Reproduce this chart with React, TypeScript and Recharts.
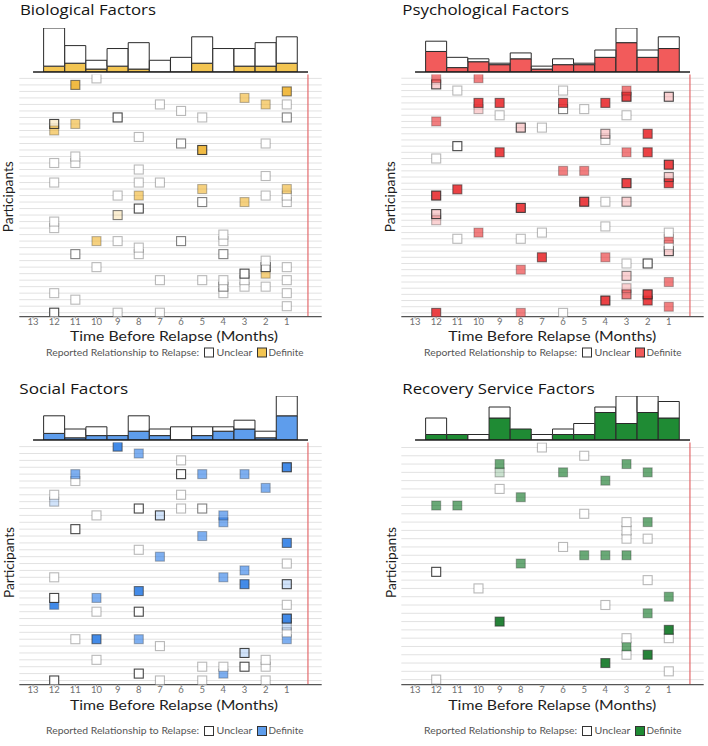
import React from "react";
import { BarChart, Bar, ScatterChart, Scatter, XAxis, YAxis, ReferenceLine } from "recharts";

// ---------- categories ----------
const MONTHS = [12, 11, 10, 9, 8, 7, 6, 5, 4, 3, 2, 1];
const MONTH_TICKS = [13, 12, 11, 10, 9, 8, 7, 6, 5, 4, 3, 2, 1];

// ---------- marginal histogram counts (months 12 -> 1) ----------
const BIO_TOTAL = [15, 9, 4, 8, 10, 4, 5, 12, 8, 8, 10, 12];
const BIO_DEFINITE = [2, 3, 1, 2, 1, 0, 0, 3, 0, 2, 2, 3];
const PSY_TOTAL = [21, 10, 9, 6, 13, 4, 9, 6, 15, 30, 15, 24];
const PSY_DEFINITE = [14, 3, 7, 5, 9, 2, 5, 5, 10, 20, 10, 16];
const SOC_TOTAL = [11, 5, 6, 2, 11, 5, 6, 6, 6, 9, 4, 20];
const SOC_DEFINITE = [3, 1, 2, 2, 4, 2, 0, 2, 4, 5, 1, 11];
const REC_TOTAL = [4, 1, 1, 6, 2, 1, 2, 3, 6, 8, 8, 7];
const REC_DEFINITE = [1, 1, 0, 4, 2, 0, 1, 1, 5, 3, 5, 4];

// ---------- events: [month, participant row, definite?, fill level, border level] ----------
type Pt = [number, number, number, number, number];
const BIO_POINTS: Pt[] = [
  [10, 1, 0, 0, 1], [11, 2, 1, 3, 2], [1, 3, 1, 3, 2], [3, 4, 1, 2, 1], [7, 5, 0, 0, 1], [2, 5, 1, 2, 1],
  [1, 5, 0, 0, 1], [6, 6, 0, 0, 1], [9, 7, 0, 0, 3], [5, 7, 0, 0, 1], [1, 7, 0, 0, 2], [12, 9, 1, 2, 1],
  [12, 8, 1, 1, 3], [11, 8, 1, 2, 1], [8, 10, 0, 0, 1], [6, 11, 0, 0, 2], [2, 11, 0, 0, 1], [5, 12, 1, 3, 3],
  [11, 13, 0, 0, 1], [11, 14, 0, 0, 1], [12, 14, 0, 0, 1], [8, 15, 0, 0, 1], [2, 16, 0, 0, 1], [12, 17, 0, 0, 1],
  [8, 17, 0, 0, 1], [7, 17, 0, 0, 1], [5, 18, 1, 2, 1], [1, 18, 1, 2, 1], [9, 19, 0, 0, 1], [8, 19, 1, 2, 1],
  [2, 19, 0, 0, 1], [1, 19, 0, 0, 1], [1, 20, 0, 0, 1], [5, 20, 0, 0, 2], [3, 20, 1, 2, 1], [8, 21, 0, 0, 3],
  [9, 22, 1, 1, 2], [12, 23, 0, 0, 1], [12, 24, 0, 0, 1], [4, 25, 0, 0, 1], [10, 26, 1, 2, 1], [9, 26, 0, 0, 1],
  [6, 26, 0, 0, 2], [4, 26, 0, 0, 1], [8, 27, 0, 0, 1], [8, 28, 0, 0, 1], [11, 28, 0, 0, 2], [4, 28, 0, 0, 2],
  [2, 29, 0, 0, 1], [10, 30, 0, 0, 1], [2, 30, 0, 0, 3], [1, 30, 0, 0, 1], [2, 31, 1, 2, 1], [3, 31, 0, 0, 3],
  [7, 32, 0, 0, 1], [5, 32, 0, 0, 1], [4, 32, 0, 0, 1], [3, 32, 0, 0, 1], [1, 32, 0, 0, 1], [4, 33, 0, 0, 2],
  [3, 33, 0, 0, 1], [2, 33, 0, 0, 1], [12, 34, 0, 0, 1], [4, 34, 0, 0, 1], [1, 34, 0, 0, 1], [11, 35, 0, 0, 1],
  [1, 36, 0, 0, 1], [12, 37, 0, 0, 3], [9, 37, 0, 0, 1], [7, 37, 0, 0, 1],
];
const PSY_POINTS: Pt[] = [
  [12, 1, 1, 2, 1], [12, 2, 1, 1, 3], [10, 1, 1, 2, 1], [11, 3, 0, 0, 1], [6, 3, 0, 0, 1], [3, 3, 1, 2, 1],
  [3, 4, 1, 3, 3], [1, 4, 1, 1, 3], [10, 5, 1, 3, 2], [10, 6, 1, 1, 1], [9, 5, 1, 3, 2], [6, 5, 1, 3, 2],
  [6, 6, 0, 0, 2], [5, 6, 0, 0, 1], [4, 5, 1, 3, 2], [9, 7, 0, 0, 1], [3, 7, 0, 0, 1], [12, 8, 1, 2, 1],
  [8, 9, 1, 1, 3], [7, 9, 0, 0, 1], [4, 10, 1, 1, 2], [4, 11, 0, 0, 1], [2, 10, 1, 3, 2], [11, 12, 0, 0, 3],
  [9, 13, 1, 3, 2], [3, 13, 1, 2, 1], [2, 13, 1, 3, 2], [12, 14, 0, 0, 1], [1, 15, 1, 3, 3], [6, 16, 1, 2, 1],
  [5, 16, 1, 2, 1], [1, 17, 1, 1, 2], [1, 18, 1, 3, 2], [3, 18, 1, 3, 3], [11, 19, 1, 3, 2], [12, 20, 1, 3, 3],
  [5, 21, 1, 3, 3], [4, 21, 0, 0, 1], [3, 21, 1, 1, 2], [8, 22, 1, 3, 3], [12, 23, 1, 1, 3], [12, 24, 1, 1, 1],
  [4, 25, 0, 0, 1], [10, 26, 1, 2, 1], [7, 26, 0, 0, 1], [11, 27, 0, 0, 1], [8, 27, 0, 0, 1], [1, 26, 0, 0, 1],
  [1, 27, 1, 2, 1], [1, 28, 0, 0, 1], [1, 29, 1, 1, 3], [7, 30, 1, 3, 2], [4, 30, 1, 2, 1], [3, 31, 0, 0, 1],
  [2, 31, 0, 0, 3], [8, 32, 1, 2, 1], [3, 33, 1, 1, 2], [1, 34, 1, 2, 1], [3, 35, 1, 1, 1], [3, 36, 1, 2, 2],
  [2, 36, 1, 3, 3], [2, 37, 1, 3, 2], [4, 37, 1, 3, 3], [1, 38, 1, 2, 1], [12, 39, 1, 3, 2], [8, 39, 1, 2, 1],
  [6, 39, 0, 0, 1],
];
const SOC_POINTS: Pt[] = [
  [9, 1, 1, 3, 2], [8, 2, 1, 2, 1], [6, 3, 0, 0, 1], [1, 4, 1, 3, 3], [11, 5, 1, 2, 1], [11, 6, 0, 0, 1],
  [6, 5, 0, 0, 3], [5, 5, 1, 2, 1], [3, 5, 1, 2, 1], [2, 7, 1, 2, 1], [12, 8, 0, 0, 1], [12, 9, 1, 1, 1],
  [6, 8, 0, 0, 1], [8, 10, 0, 0, 3], [6, 10, 0, 0, 1], [5, 10, 0, 0, 2], [10, 11, 0, 0, 1], [7, 11, 1, 1, 3],
  [4, 11, 1, 2, 1], [4, 12, 1, 2, 1], [11, 13, 0, 0, 3], [5, 14, 1, 2, 1], [1, 15, 1, 3, 2], [8, 16, 0, 0, 1],
  [7, 17, 1, 2, 1], [1, 18, 0, 0, 1], [3, 19, 1, 2, 1], [12, 20, 0, 0, 1], [4, 20, 1, 2, 1], [3, 21, 1, 3, 2],
  [1, 21, 1, 1, 3], [8, 22, 1, 3, 2], [12, 23, 0, 0, 3], [12, 24, 1, 3, 1], [10, 23, 1, 2, 1], [1, 24, 0, 0, 1],
  [10, 25, 0, 0, 1], [8, 25, 0, 0, 3], [1, 26, 1, 3, 3], [1, 27, 1, 1, 1], [1, 28, 0, 0, 1], [1, 29, 1, 2, 1],
  [11, 29, 0, 0, 1], [10, 29, 1, 3, 2], [8, 29, 1, 2, 1], [7, 30, 0, 0, 1], [3, 31, 1, 1, 3], [10, 32, 0, 0, 1],
  [2, 32, 0, 0, 1], [2, 33, 0, 0, 1], [5, 33, 0, 0, 1], [4, 33, 0, 0, 1], [3, 33, 0, 0, 3], [8, 34, 0, 0, 3],
  [4, 34, 1, 2, 1], [12, 35, 0, 0, 3], [7, 35, 0, 0, 1], [5, 35, 0, 0, 1], [2, 35, 0, 0, 1],
];
const REC_POINTS: Pt[] = [
  [7, 1, 0, 0, 1], [5, 2, 0, 0, 1], [9, 3, 1, 2, 1], [9, 4, 1, 1, 1], [3, 3, 1, 2, 1], [6, 4, 1, 2, 1],
  [2, 4, 1, 2, 1], [4, 5, 1, 2, 1], [9, 6, 0, 0, 1], [8, 7, 1, 2, 1], [12, 8, 1, 2, 1], [11, 8, 1, 2, 1],
  [5, 9, 0, 0, 1], [3, 10, 0, 0, 1], [2, 10, 1, 2, 1], [3, 11, 0, 0, 1], [3, 12, 0, 0, 1], [2, 12, 0, 0, 1],
  [6, 13, 0, 0, 1], [5, 14, 1, 2, 1], [4, 14, 1, 2, 1], [3, 14, 1, 2, 1], [8, 15, 1, 2, 1], [12, 16, 0, 0, 3],
  [2, 17, 0, 0, 1], [10, 18, 0, 0, 1], [1, 19, 1, 2, 1], [4, 20, 0, 0, 1], [2, 21, 1, 2, 1], [9, 22, 1, 3, 2],
  [1, 23, 1, 3, 2], [1, 24, 0, 0, 1], [3, 24, 0, 0, 1], [3, 25, 1, 2, 1], [3, 26, 0, 0, 1], [2, 26, 1, 3, 2],
  [4, 27, 1, 3, 2], [1, 28, 0, 0, 1], [12, 29, 0, 0, 1],
];

const FILL_ALPHA = [0, 0.22, 0.62, 0.9];
const BORDER_ALPHA = [0, 0.33, 0.6, 0.88];
const LEGEND_LABEL = "Reported Relationship to Relapse:";
const X_TITLE = "Time Before Relapse (Months)";

const PANELS = [
  { key: "bio", title: "Biological Factors", dx: 0, dy: 0, rows: 37, points: BIO_POINTS, total: BIO_TOTAL, definite: BIO_DEFINITE,
    color: "#F0B430", histColor: "#F3C552", titleX: 20, titleY: 15.3, titleW: 136, xtX: 70, xtY: 340.5, ylX: 13.5, ylY: 196.7, lgX: 46, lgY: 352.5 },
  { key: "psy", title: "Psychological Factors", dx: 382.4, dy: 0, rows: 39, points: PSY_POINTS, total: PSY_TOTAL, definite: PSY_DEFINITE,
    color: "#E92E31", histColor: "#F25B5B", titleX: 402.3, titleY: 15.3, titleW: 166.7, xtX: 448.3, xtY: 340.5, ylX: 395.5, ylY: 196.7, lgX: 424, lgY: 352.5 },
  { key: "soc", title: "Social Factors", dx: 0, dy: 368, rows: 35, points: SOC_POINTS, total: SOC_TOTAL, definite: SOC_DEFINITE,
    color: "#2F7EE6", histColor: "#5E9DEC", titleX: 19.3, titleY: 394, titleW: 109, xtX: 70, xtY: 710, ylX: 13.5, ylY: 562.5, lgX: 46, lgY: 731 },
  { key: "rec", title: "Recovery Service Factors", dx: 382.4, dy: 368, rows: 29, points: REC_POINTS, total: REC_TOTAL, definite: REC_DEFINITE,
    color: "#0E7524", histColor: "#1F8B34", titleX: 402.3, titleY: 394, titleW: 192.4, xtX: 448.3, xtY: 710, ylX: 395.5, ylY: 562.5, lgX: 424, lgY: 731 },
];

const makeShape = (base: string) => (props: any) => {
  const { cx, cy, payload } = props;
  if (cx == null || cy == null) return <g />;
  const s = 9;
  const isDef = payload.d === 1;
  return (
    <rect
      x={cx - s / 2}
      y={cy - s / 2}
      width={s}
      height={s}
      fill={isDef ? base : "#ffffff"}
      fillOpacity={isDef ? FILL_ALPHA[payload.f] : 1}
      stroke="#2b2b2b"
      strokeOpacity={BORDER_ALPHA[payload.b]}
      strokeWidth={1.1}
    />
  );
};

function Panel({ cfg }: { cfg: any }) {
  const hist = MONTHS.map((m, i) => ({ month: m, definite: cfg.definite[i], unclear: cfg.total[i] - cfg.definite[i] }));
  const maxT = Math.max(...cfg.total);
  const pts = cfg.points
    .map(([m, p, d, f, b]: Pt) => ({ m, p, d, f, b }))
    .sort((a: any, b: any) => b.p - a.p);
  const rowTicks = Array.from({ length: cfg.rows }, (_, i) => i + 1);
  return (
    <>
      <div style={{ position: "absolute", left: cfg.dx, top: cfg.dy + 20 }}>
        <BarChart width={325} height={60} data={hist} margin={{ top: 8, right: 17, left: 33.05, bottom: 6 }} barCategoryGap={0}>
          <XAxis dataKey="month" type="category" padding={{ left: 10.57, right: 10.57 }} tick={false} tickLine={false}
            axisLine={{ stroke: "#1e1e1e", strokeWidth: 1.5 }} height={2} />
          <YAxis hide type="number" domain={[0, maxT]} allowDataOverflow />
          <Bar dataKey="definite" stackId="s" fill={cfg.histColor} stroke="#2a2a2a" strokeWidth={1} isAnimationActive={false} />
          <Bar dataKey="unclear" stackId="s" fill="#ffffff" stroke="#2a2a2a" strokeWidth={1} isAnimationActive={false} />
        </BarChart>
      </div>
      <div style={{ position: "absolute", left: cfg.dx, top: cfg.dy + 60 }}>
        <ScatterChart width={325} height={285} margin={{ top: 14.5, right: 3.3, left: 19.3, bottom: 12.4 }}>
          <XAxis type="number" dataKey="m" domain={[-0.65, 13.65]} reversed allowDataOverflow ticks={MONTH_TICKS} interval={0}
            tickSize={2} tickMargin={0} tick={{ fontSize: 9.5, fill: "#707070" }} tickLine={{ stroke: "#999" }}
            axisLine={{ stroke: "#555", strokeWidth: 1.2 }} height={16} />
          <YAxis type="number" dataKey="p" domain={[0.4, cfg.rows + 0.6]} reversed allowDataOverflow ticks={rowTicks} interval={0}
            tick={false} tickLine={false} axisLine={{ stroke: "#555", strokeWidth: 1.2 }} width={0} />
          {rowTicks.map((r) => (
            <ReferenceLine key={r} y={r} stroke="#e2e2e2" strokeWidth={1} />
          ))}
          <ReferenceLine x={0} stroke="#E46A6C" strokeWidth={1.2} />
          <Scatter data={pts} shape={makeShape(cfg.color)} isAnimationActive={false} />
        </ScatterChart>
      </div>
    </>
  );
}

export default function App() {
  return (
    <div style={{ position: "absolute", left: 0, top: 0, width: 708, height: 746, overflow: "hidden", background: "#fff", fontFamily: "Lato, 'Open Sans', sans-serif" }}>
      {PANELS.map((p) => (
        <Panel key={p.key} cfg={p} />
      ))}
      <svg width={708} height={746} style={{ position: "absolute", left: 0, top: 0, pointerEvents: "none" }}>
        {PANELS.map((p) => (
          <g key={p.key}>
            <text x={p.titleX} y={p.titleY} fontSize={14.5} fill="#141414" fontFamily="'Open Sans', sans-serif"
              textLength={p.titleW} lengthAdjust="spacingAndGlyphs">{p.title}</text>
            <text x={p.xtX} y={p.xtY} fontSize={13} fill="#1e1e1e" fontFamily="Lato, sans-serif"
              textLength={208} lengthAdjust="spacingAndGlyphs">{X_TITLE}</text>
            <text x={p.ylX} y={p.ylY} fontSize={13} fill="#1e1e1e" fontFamily="Lato, sans-serif" textAnchor="middle"
              transform={`rotate(-90 ${p.ylX} ${p.ylY})`} textLength={71} lengthAdjust="spacingAndGlyphs">Participants</text>
            <text x={p.lgX} y={p.lgY + 3.3} fontSize={9.5} fill="#555" fontFamily="Lato, sans-serif"
              textLength={153} lengthAdjust="spacingAndGlyphs">{LEGEND_LABEL}</text>
            <rect x={p.lgX + 158.5} y={p.lgY - 4.5} width={9} height={9} fill="#fff" stroke="#333" strokeWidth={1} />
            <text x={p.lgX + 170.5} y={p.lgY + 3.3} fontSize={9.5} fill="#555" fontFamily="Lato, sans-serif"
              textLength={36} lengthAdjust="spacingAndGlyphs">Unclear</text>
            <rect x={p.lgX + 211.5} y={p.lgY - 4.5} width={9} height={9} fill={p.histColor} stroke="#333" strokeWidth={1} />
            <text x={p.lgX + 222.5} y={p.lgY + 3.3} fontSize={9.5} fill="#555" fontFamily="Lato, sans-serif"
              textLength={35} lengthAdjust="spacingAndGlyphs">Definite</text>
          </g>
        ))}
      </svg>
    </div>
  );
}
